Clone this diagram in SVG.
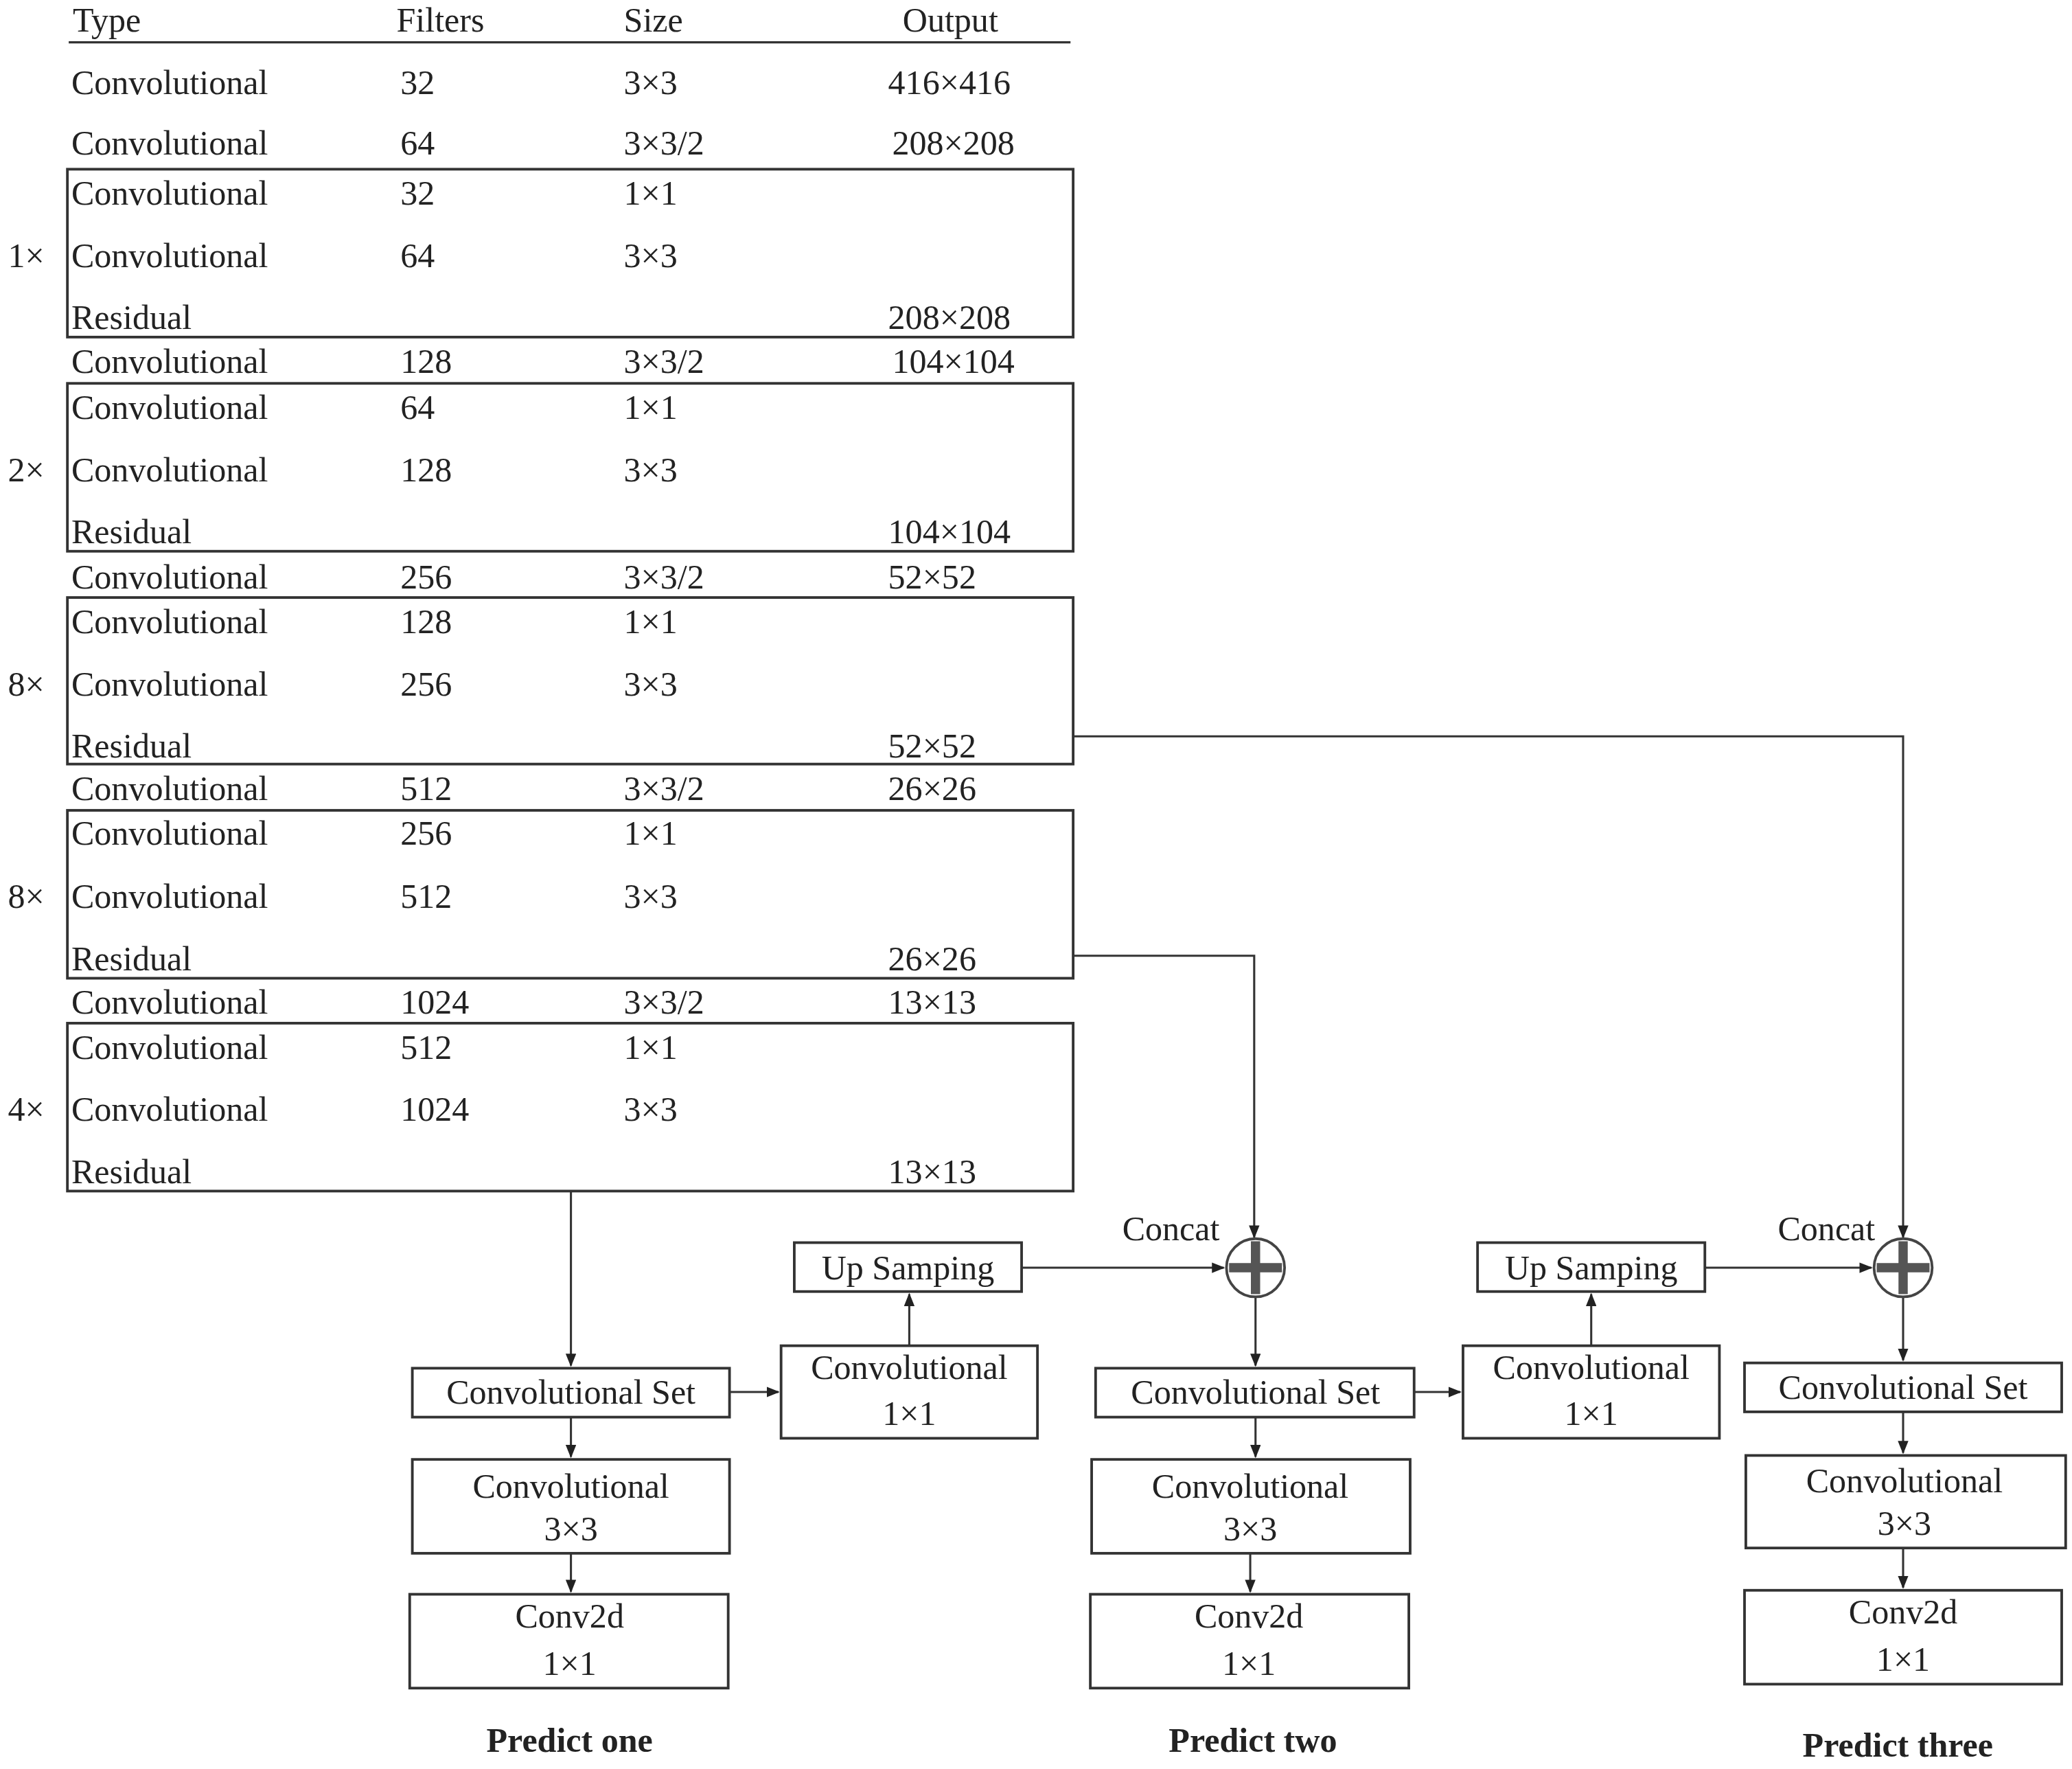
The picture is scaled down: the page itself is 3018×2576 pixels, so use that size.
<svg xmlns="http://www.w3.org/2000/svg" width="3018" height="2576" viewBox="0 0 3018 2576">
<defs>
<marker id="ah" markerWidth="10" markerHeight="8" refX="9" refY="4" orient="auto" markerUnits="userSpaceOnUse"><path d="M0,0 L10,4 L0,8 z" fill="#222"/></marker>
<style>
text{font-family:"Liberation Serif","Times New Roman",serif;font-size:26px;fill:#222}
.c{text-anchor:middle}
.b{font-weight:bold}
rect{fill:#fff;stroke:#333;stroke-width:2}
.ln{fill:none;stroke:#333;stroke-width:1.6}
</style>
</defs>
<rect x="0" y="0" width="3018" height="2576" style="stroke:none"/>
<g transform="scale(1.925)">
<g id="table">
<text x="55" y="24">Type</text><text x="300" y="24">Filters</text><text x="472" y="24">Size</text><text x="683" y="24">Output</text>
<line x1="52" y1="32" x2="810" y2="32" class="ln"/>
<rect x="51" y="128" width="761" height="127"/>
<rect x="51" y="290" width="761" height="127"/>
<rect x="51" y="452" width="761" height="126"/>
<rect x="51" y="613" width="761" height="127"/>
<rect x="51" y="774" width="761" height="127"/>
<g>
<text x="54" y="71">Convolutional</text><text x="303" y="71">32</text><text x="472" y="71">3×3</text><text x="672" y="71">416×416</text>
<text x="54" y="117">Convolutional</text><text x="303" y="117">64</text><text x="472" y="117">3×3/2</text><text x="675" y="117">208×208</text>
<text x="54" y="155">Convolutional</text><text x="303" y="155">32</text><text x="472" y="155">1×1</text>
<text x="54" y="202">Convolutional</text><text x="303" y="202">64</text><text x="472" y="202">3×3</text>
<text x="54" y="249">Residual</text><text x="672" y="249">208×208</text>
<text x="54" y="282">Convolutional</text><text x="303" y="282">128</text><text x="472" y="282">3×3/2</text><text x="675" y="282">104×104</text>
<text x="54" y="317">Convolutional</text><text x="303" y="317">64</text><text x="472" y="317">1×1</text>
<text x="54" y="364">Convolutional</text><text x="303" y="364">128</text><text x="472" y="364">3×3</text>
<text x="54" y="411">Residual</text><text x="672" y="411">104×104</text>
<text x="54" y="445">Convolutional</text><text x="303" y="445">256</text><text x="472" y="445">3×3/2</text><text x="672" y="445">52×52</text>
<text x="54" y="479">Convolutional</text><text x="303" y="479">128</text><text x="472" y="479">1×1</text>
<text x="54" y="526">Convolutional</text><text x="303" y="526">256</text><text x="472" y="526">3×3</text>
<text x="54" y="573">Residual</text><text x="672" y="573">52×52</text>
<text x="54" y="605">Convolutional</text><text x="303" y="605">512</text><text x="472" y="605">3×3/2</text><text x="672" y="605">26×26</text>
<text x="54" y="639">Convolutional</text><text x="303" y="639">256</text><text x="472" y="639">1×1</text>
<text x="54" y="687">Convolutional</text><text x="303" y="687">512</text><text x="472" y="687">3×3</text>
<text x="54" y="734">Residual</text><text x="672" y="734">26×26</text>
<text x="54" y="767">Convolutional</text><text x="303" y="767">1024</text><text x="472" y="767">3×3/2</text><text x="672" y="767">13×13</text>
<text x="54" y="801">Convolutional</text><text x="303" y="801">512</text><text x="472" y="801">1×1</text>
<text x="54" y="848">Convolutional</text><text x="303" y="848">1024</text><text x="472" y="848">3×3</text>
<text x="54" y="895">Residual</text><text x="672" y="895">13×13</text>
<text x="6" y="202">1×</text><text x="6" y="364">2×</text><text x="6" y="526">8×</text><text x="6" y="687">8×</text><text x="6" y="848">4×</text>
</g>
</g>
<g id="connectors">
<path d="M432,901 V1033" class="ln" marker-end="url(#ah)"/>
<path d="M552,1053 H589" class="ln" marker-end="url(#ah)"/>
<path d="M688,1018 V979" class="ln" marker-end="url(#ah)"/>
<path d="M773,959 H926" class="ln" marker-end="url(#ah)"/>
<path d="M812,723 H949 V936" class="ln" marker-end="url(#ah)"/>
<path d="M950,981 V1033" class="ln" marker-end="url(#ah)"/>
<path d="M1070,1053 H1105" class="ln" marker-end="url(#ah)"/>
<path d="M1204,1018 V979" class="ln" marker-end="url(#ah)"/>
<path d="M1290,959 H1416" class="ln" marker-end="url(#ah)"/>
<path d="M812,557 H1440 V936" class="ln" marker-end="url(#ah)"/>
<path d="M1440,981 V1029" class="ln" marker-end="url(#ah)"/>
<path d="M432,1072 V1102" class="ln" marker-end="url(#ah)"/>
<path d="M432,1175 V1204" class="ln" marker-end="url(#ah)"/>
<path d="M950,1072 V1102" class="ln" marker-end="url(#ah)"/>
<path d="M946,1175 V1204" class="ln" marker-end="url(#ah)"/>
<path d="M1440,1068 V1099" class="ln" marker-end="url(#ah)"/>
<path d="M1440,1171 V1201" class="ln" marker-end="url(#ah)"/>
</g>
<g id="concat1"><circle cx="950" cy="959" r="22" fill="#fff" stroke="#444" stroke-width="2"/><path d="M950,939 V979 M930,959 H970" stroke="#555" stroke-width="7"/><text class="c" x="886" y="938">Concat</text></g>
<g id="concat2"><circle cx="1440" cy="959" r="22" fill="#fff" stroke="#444" stroke-width="2"/><path d="M1440,939 V979 M1420,959 H1460" stroke="#555" stroke-width="7"/><text class="c" x="1382" y="938">Concat</text></g>
<g id="set1"><rect x="312" y="1035" width="240" height="37"/><text class="c" x="432" y="1062">Convolutional Set</text></g>
<g id="c11a"><rect x="591" y="1018" width="194" height="70"/><text class="c" x="688" y="1043">Convolutional</text><text class="c" x="688" y="1078">1×1</text></g>
<g id="up1"><rect x="601" y="940" width="172" height="37"/><text class="c" x="687" y="968">Up Samping</text></g>
<g id="c33a"><rect x="312" y="1104" width="240" height="71"/><text class="c" x="432" y="1133">Convolutional</text><text class="c" x="432" y="1165">3×3</text></g>
<g id="c2da"><rect x="310" y="1206" width="241" height="71"/><text class="c" x="431" y="1231">Conv2d</text><text class="c" x="431" y="1267">1×1</text></g>
<g id="set2"><rect x="829" y="1035" width="241" height="37"/><text class="c" x="950" y="1062">Convolutional Set</text></g>
<g id="c11b"><rect x="1107" y="1018" width="194" height="70"/><text class="c" x="1204" y="1043">Convolutional</text><text class="c" x="1204" y="1078">1×1</text></g>
<g id="up2"><rect x="1118" y="940" width="172" height="37"/><text class="c" x="1204" y="968">Up Samping</text></g>
<g id="c33b"><rect x="826" y="1104" width="241" height="71"/><text class="c" x="946" y="1133">Convolutional</text><text class="c" x="946" y="1165">3×3</text></g>
<g id="c2db"><rect x="825" y="1206" width="241" height="71"/><text class="c" x="945" y="1231">Conv2d</text><text class="c" x="945" y="1267">1×1</text></g>
<g id="set3"><rect x="1320" y="1031" width="240" height="37"/><text class="c" x="1440" y="1058">Convolutional Set</text></g>
<g id="c33c"><rect x="1321" y="1101" width="242" height="70"/><text class="c" x="1441" y="1129">Convolutional</text><text class="c" x="1441" y="1161">3×3</text></g>
<g id="c2dc"><rect x="1320" y="1203" width="240" height="71"/><text class="c" x="1440" y="1228">Conv2d</text><text class="c" x="1440" y="1264">1×1</text></g>
<g id="labels"><text class="c b" x="431" y="1325">Predict one</text><text class="c b" x="948" y="1325">Predict two</text><text class="c b" x="1436" y="1329">Predict three</text></g>
</g>
</svg>
